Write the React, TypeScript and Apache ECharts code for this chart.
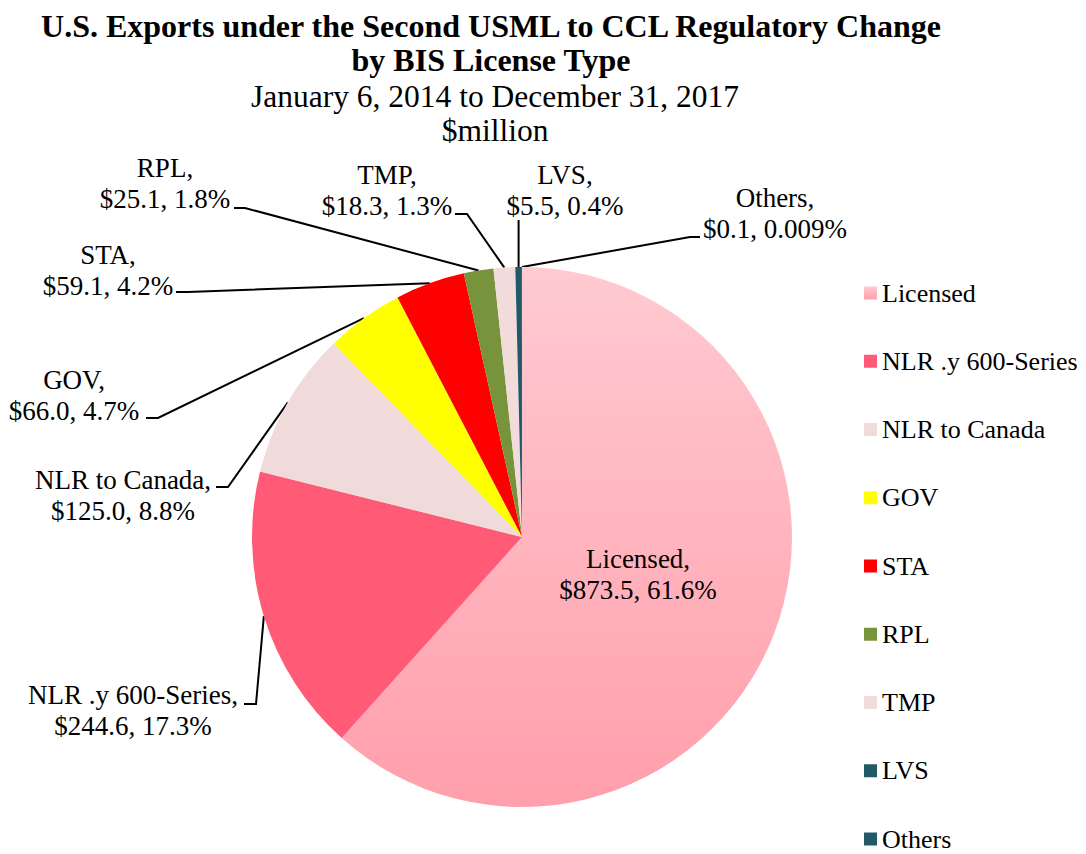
import React, { useEffect, useRef } from "react";
import * as echarts from "echarts";

const categories = [
  "Licensed",
  "NLR .y 600-Series",
  "NLR to Canada",
  "GOV",
  "STA",
  "RPL",
  "TMP",
  "LVS",
  "Others",
];
const values = [873.5, 244.6, 125.0, 66.0, 59.1, 25.1, 18.3, 5.5, 0.1];
const percentLabels = ["61.6", "17.3", "8.8", "4.7", "4.2", "1.8", "1.3", "0.4", "0.009"];
const titleLines = [
  "U.S. Exports under the Second USML to CCL Regulatory Change",
  "by BIS License Type",
];
const subtitleLines = ["January 6, 2014 to December 31, 2017", "$million"];

const sliceColors: any[] = [
  {
    type: "linear",
    x: 0,
    y: 0,
    x2: 0,
    y2: 1,
    colorStops: [
      { offset: 0, color: "#FFCAD1" },
      { offset: 1, color: "#FF9FAC" },
    ],
  },
  "#FF5A76",
  "#F0DADA",
  "#FFFF00",
  "#FF0000",
  "#77933C",
  "#F2DCDB",
  "#215968",
  "#215968",
];

// label placement (layout only)
const labelCenters: [number, number][] = [
  [630, 566],
  [125, 702],
  [115, 487],
  [66, 387],
  [100, 262],
  [157, 175],
  [379, 182],
  [557, 182],
  [767, 205],
];
const lineBends: number[][][] = [
  [],
  [[248, 696], [236, 696]],
  [[220, 479], [208, 479]],
  [[150, 410], [138, 410]],
  [[180, 284], [168, 284]],
  [[237, 200], [226, 200]],
  [[459, 206], [447, 206]],
  [],
  [[682, 229], [692, 229]],
];

const FONT = "'Liberation Serif', 'Times New Roman', serif";

export default function App() {
  const ref = useRef<HTMLDivElement>(null);
  useEffect(() => {
    if (!ref.current) return;
    const chart = echarts.init(ref.current, undefined, { renderer: "svg" });
    const data = categories.map((name, i) => {
      const item: any = {
        name,
        value: values[i],
        itemStyle: { color: sliceColors[i] },
      };
      if (i === 0) {
        item.label = { position: "inside" };
        item.labelLine = { show: false };
      }
      return item;
    });
    chart.setOption({
      animation: false,
      backgroundColor: "#ffffff",
      graphic: [
        ...titleLines.map((t, i) => ({
          type: "text",
          x: 483,
          y: 17.5 + i * 34,
          style: {
            text: t,
            fill: "#000",
            font: `bold 32px ${FONT}`,
            textAlign: "center",
            textVerticalAlign: "middle",
          },
        })),
        ...subtitleLines.map((t, i) => ({
          type: "text",
          x: 487,
          y: 88 + i * 34,
          style: {
            text: t,
            fill: "#000",
            font: `31.5px ${FONT}`,
            textAlign: "center",
            textVerticalAlign: "middle",
          },
        })),
      ],
      legend: {
        orient: "vertical",
        left: 851,
        top: 267,
        width: 225,
        height: 640,
        padding: 5,
        itemWidth: 13,
        itemHeight: 13,
        itemGap: 42.25,
        icon: "rect",
        data: categories,
        textStyle: {
          fontFamily: FONT,
          fontSize: 26,
          lineHeight: 26,
          color: "#000",
        },
      },
      series: [
        {
          type: "pie",
          center: [514, 529],
          radius: [0, 270],
          startAngle: 90,
          clockwise: true,
          avoidLabelOverlap: false,
          itemStyle: { borderWidth: 0 },
          emphasis: { disabled: true },
          label: {
            show: true,
            position: "outside",
            fontFamily: FONT,
            fontSize: 27,
            lineHeight: 31,
            color: "#000",
            align: "center",
            formatter: (p: any) =>
              `${p.name},\n$${values[p.dataIndex].toFixed(1)}, ${percentLabels[p.dataIndex]}%`,
          },
          labelLine: {
            show: true,
            length: 10,
            length2: 10,
            lineStyle: { color: "#000", width: 2 },
          },
          labelLayout: (p: any) => {
            const i = p.dataIndex;
            const [x, y] = labelCenters[i];
            const res: any = { x, y, align: "center", verticalAlign: "middle" };
            const pts = p.labelLinePoints;
            if (i > 0 && pts && pts.length) {
              const a = pts[0];
              if (i === 7) {
                res.labelLinePoints = [
                  [a[0], a[1]],
                  [a[0], 212],
                  [a[0], 212],
                ];
              } else {
                res.labelLinePoints = [[a[0], a[1]], ...lineBends[i]];
              }
            }
            return res;
          },
          data,
        },
      ],
    });
    return () => chart.dispose();
  }, []);
  return <div ref={ref} style={{ width: 1078, height: 846 }} />;
}
